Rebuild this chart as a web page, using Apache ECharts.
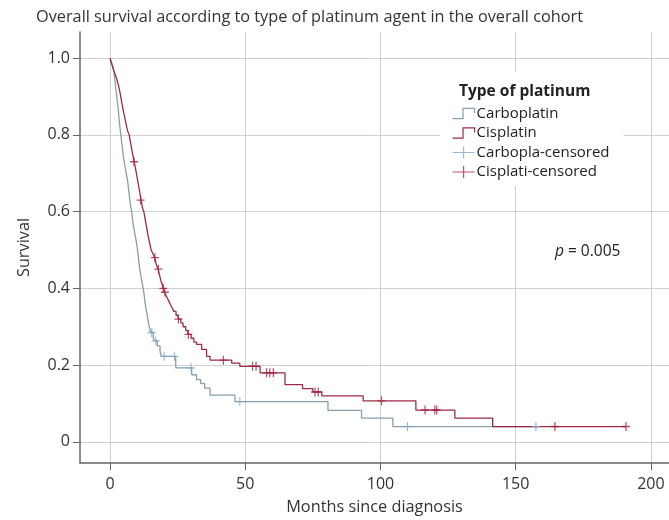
<!DOCTYPE html>
<html>
<head>
<meta charset="utf-8">
<script src="https://cdn.jsdelivr.net/npm/echarts@6/dist/echarts.min.js"></script>
<style>html,body{margin:0;padding:0;background:#fff}#c{width:669px;height:520px}</style>
</head>
<body>
<div id="c"></div>
<script>
// Carboplatin KM step curve (months, survival)
var carboT = [0,0.5,1,1.5,2,2.5,3,3.5,4,4.5,5,5.5,6,6.5,7,7.5,8,8.5,9,9.5,10,10.5,11,11.5,12,12.5,13,13.5,14,14.5,15,16,16.5,17.5,18.5,19,24.3,30.2,32,33.5,35,37,46.2,80.6,93,104.6,157.5];
var carboS = [1.0,0.99,0.98,0.96,0.93,0.90,0.87,0.83,0.80,0.77,0.74,0.72,0.70,0.68,0.65,0.62,0.60,0.57,0.55,0.53,0.51,0.48,0.45,0.43,0.41,0.39,0.36,0.34,0.32,0.30,0.285,0.27,0.263,0.25,0.235,0.223,0.193,0.175,0.162,0.152,0.14,0.122,0.105,0.082,0.062,0.04,0.04];
// Cisplatin KM step curve
var cisT = [0,0.5,1,1.5,2,2.5,3.1,3.7,4.2,4.7,5.3,5.9,6.5,7.1,7.6,8.1,8.5,8.9,9.5,10,10.5,11,11.5,12,12.5,13,13.5,14,14.6,15.2,15.9,16.5,17.2,17.8,18.3,18.8,19.3,19.6,20.1,20.8,21.5,22.2,22.9,23.6,24.4,25.2,26.2,27,28,28.8,30,31,32,33.9,35.7,37,45,48,55.5,64.7,71.2,75,78.3,93.6,113.1,127.5,141.5,190.8];
var cisS = [1.0,0.988,0.976,0.966,0.956,0.945,0.93,0.91,0.89,0.87,0.85,0.83,0.81,0.80,0.78,0.76,0.745,0.73,0.71,0.69,0.67,0.65,0.63,0.61,0.60,0.58,0.56,0.54,0.52,0.50,0.49,0.48,0.46,0.45,0.435,0.42,0.41,0.40,0.39,0.38,0.37,0.36,0.35,0.34,0.33,0.32,0.31,0.30,0.29,0.28,0.27,0.26,0.254,0.241,0.223,0.213,0.205,0.197,0.18,0.149,0.139,0.13,0.12,0.107,0.083,0.062,0.04,0.04];
// Censored observations
var carboCensT = [15.4,16.9,20,23.8,30,48,110,157.5];
var carboCensS = [0.285,0.263,0.223,0.223,0.193,0.105,0.04,0.04];
var cisCensT = [8.9,11.3,16.6,17.9,19.7,20.3,25.3,29,41.9,52.7,54,57.9,59.1,60.4,75.8,77,100.4,116.5,120.1,120.8,164.5,190.8];
var cisCensS = [0.73,0.63,0.48,0.45,0.40,0.39,0.32,0.28,0.213,0.197,0.197,0.18,0.18,0.18,0.13,0.13,0.107,0.083,0.083,0.083,0.04,0.04];
// Axis ticks
var xTicks = [0,50,100,150,200];
var yTicks = [0,0.2,0.4,0.6,0.8,1.0];
var seriesNames = ['Carboplatin','Cisplatin','Carbopla-censored','Cisplati-censored'];

function zip(a,b){ return a.map(function(v,i){ return [v,b[i]]; }); }

var FONT = '"Open Sans", sans-serif';
var blueLine = '#86a0ab', redLine = '#9c2b47', blueCens = '#7fa5cc', redCens = '#a8243f';
var plus = 'path://M0,5 L10,5 M5,0 L5,10';
var stepIcon = 'path://M0,11 L9,11 L9,2 L19,2 L19,6';
var plusIcon = 'path://M0,6 L22,6 M11,0 L11,12';

var chart = echarts.init(document.getElementById('c'), null, {renderer:'canvas'});
chart.setOption({
  animation: false,
  backgroundColor: '#fff',
  textStyle: {fontFamily: FONT},
  title: [
    {text: 'Overall survival according to type of platinum agent in the overall cohort', left: 31, top: 4,
     textStyle: {fontFamily: FONT, fontSize: 16.3, fontWeight: 'normal', color: '#333'}},
    {text: 'Type of platinum', left: 454, top: 79, z: 10,
     textStyle: {fontFamily: FONT, fontSize: 15.5, fontWeight: 'bold', color: '#222'}},
    {text: '{i|p} = 0.005', left: 550, top: 239, z: 10,
     textStyle: {fontFamily: FONT, fontSize: 15.5, fontWeight: 'normal', color: '#222',
       rich: {i: {fontFamily: FONT, fontSize: 15.5, fontStyle: 'italic', color: '#222'}}}}
  ],
  legend: {
    orient: 'vertical', left: 440, top: 72,
    padding: [34, 14, 6, 12],
    backgroundColor: '#fff',
    itemWidth: 22, itemHeight: 12, itemGap: 4.5,
    textStyle: {fontFamily: FONT, fontSize: 15, color: '#222', padding: [0,0,0,-3]},
    selectedMode: false,
    data: [
      {name: seriesNames[0], icon: stepIcon, itemStyle: {color: 'transparent', borderColor: blueLine, borderWidth: 1.2}},
      {name: seriesNames[1], icon: stepIcon, itemStyle: {color: 'transparent', borderColor: redLine, borderWidth: 1.2}},
      {name: seriesNames[2], icon: plusIcon, itemStyle: {color: 'transparent', borderColor: blueCens, borderWidth: 1.2}},
      {name: seriesNames[3], icon: plusIcon, itemStyle: {color: 'transparent', borderColor: redCens, borderWidth: 1.2}}
    ]
  },
  grid: {left: 80, top: 32, right: 0, bottom: 57, containLabel: false},
  xAxis: {
    type: 'value', min: -11.1, max: 206.7,
    name: 'Months since diagnosis', nameLocation: 'middle', nameGap: 36,
    nameTextStyle: {fontFamily: FONT, fontSize: 16.3, color: '#333'},
    axisLine: {show: true, onZero: false, lineStyle: {color: '#666', width: 1.5}},
    axisTick: {show: true, customValues: xTicks, length: 7, lineStyle: {color: '#666'}},
    axisLabel: {customValues: xTicks, margin: 13, fontFamily: FONT, fontSize: 16, color: '#333'},
    splitLine: {show: true, lineStyle: {color: '#d0d0d0', width: 1}}
  },
  yAxis: {
    type: 'value', min: -0.055, max: 1.068,
    name: 'Survival', nameLocation: 'middle', nameGap: 48,
    nameTextStyle: {fontFamily: FONT, fontSize: 16.3, color: '#333'},
    axisLine: {show: true, onZero: false, lineStyle: {color: '#666', width: 1.5}},
    axisTick: {show: true, customValues: yTicks, length: 7, lineStyle: {color: '#666'}},
    axisLabel: {customValues: yTicks, margin: 10, fontFamily: FONT, fontSize: 16, color: '#333',
      formatter: function(v){ return Math.abs(v) < 1e-9 ? '0' : v.toFixed(1); }},
    splitLine: {show: true, lineStyle: {color: '#d0d0d0', width: 1}}
  },
  series: [
    {name: seriesNames[0], type: 'line', step: 'end', symbol: 'none', data: zip(carboT, carboS),
     lineStyle: {color: blueLine, width: 1.3}, itemStyle: {color: blueLine}, z: 2},
    {name: seriesNames[1], type: 'line', step: 'end', symbol: 'none', data: zip(cisT, cisS),
     lineStyle: {color: redLine, width: 1.3}, itemStyle: {color: redLine}, z: 3},
    {name: seriesNames[2], type: 'scatter', symbol: plus, symbolSize: [8, 9], data: zip(carboCensT, carboCensS),
     itemStyle: {color: 'transparent', borderColor: blueCens, borderWidth: 1.2}, z: 4},
    {name: seriesNames[3], type: 'scatter', symbol: plus, symbolSize: [8, 9], data: zip(cisCensT, cisCensS),
     itemStyle: {color: 'transparent', borderColor: redCens, borderWidth: 1.3}, z: 5}
  ]
});
</script>
</body>
</html>
